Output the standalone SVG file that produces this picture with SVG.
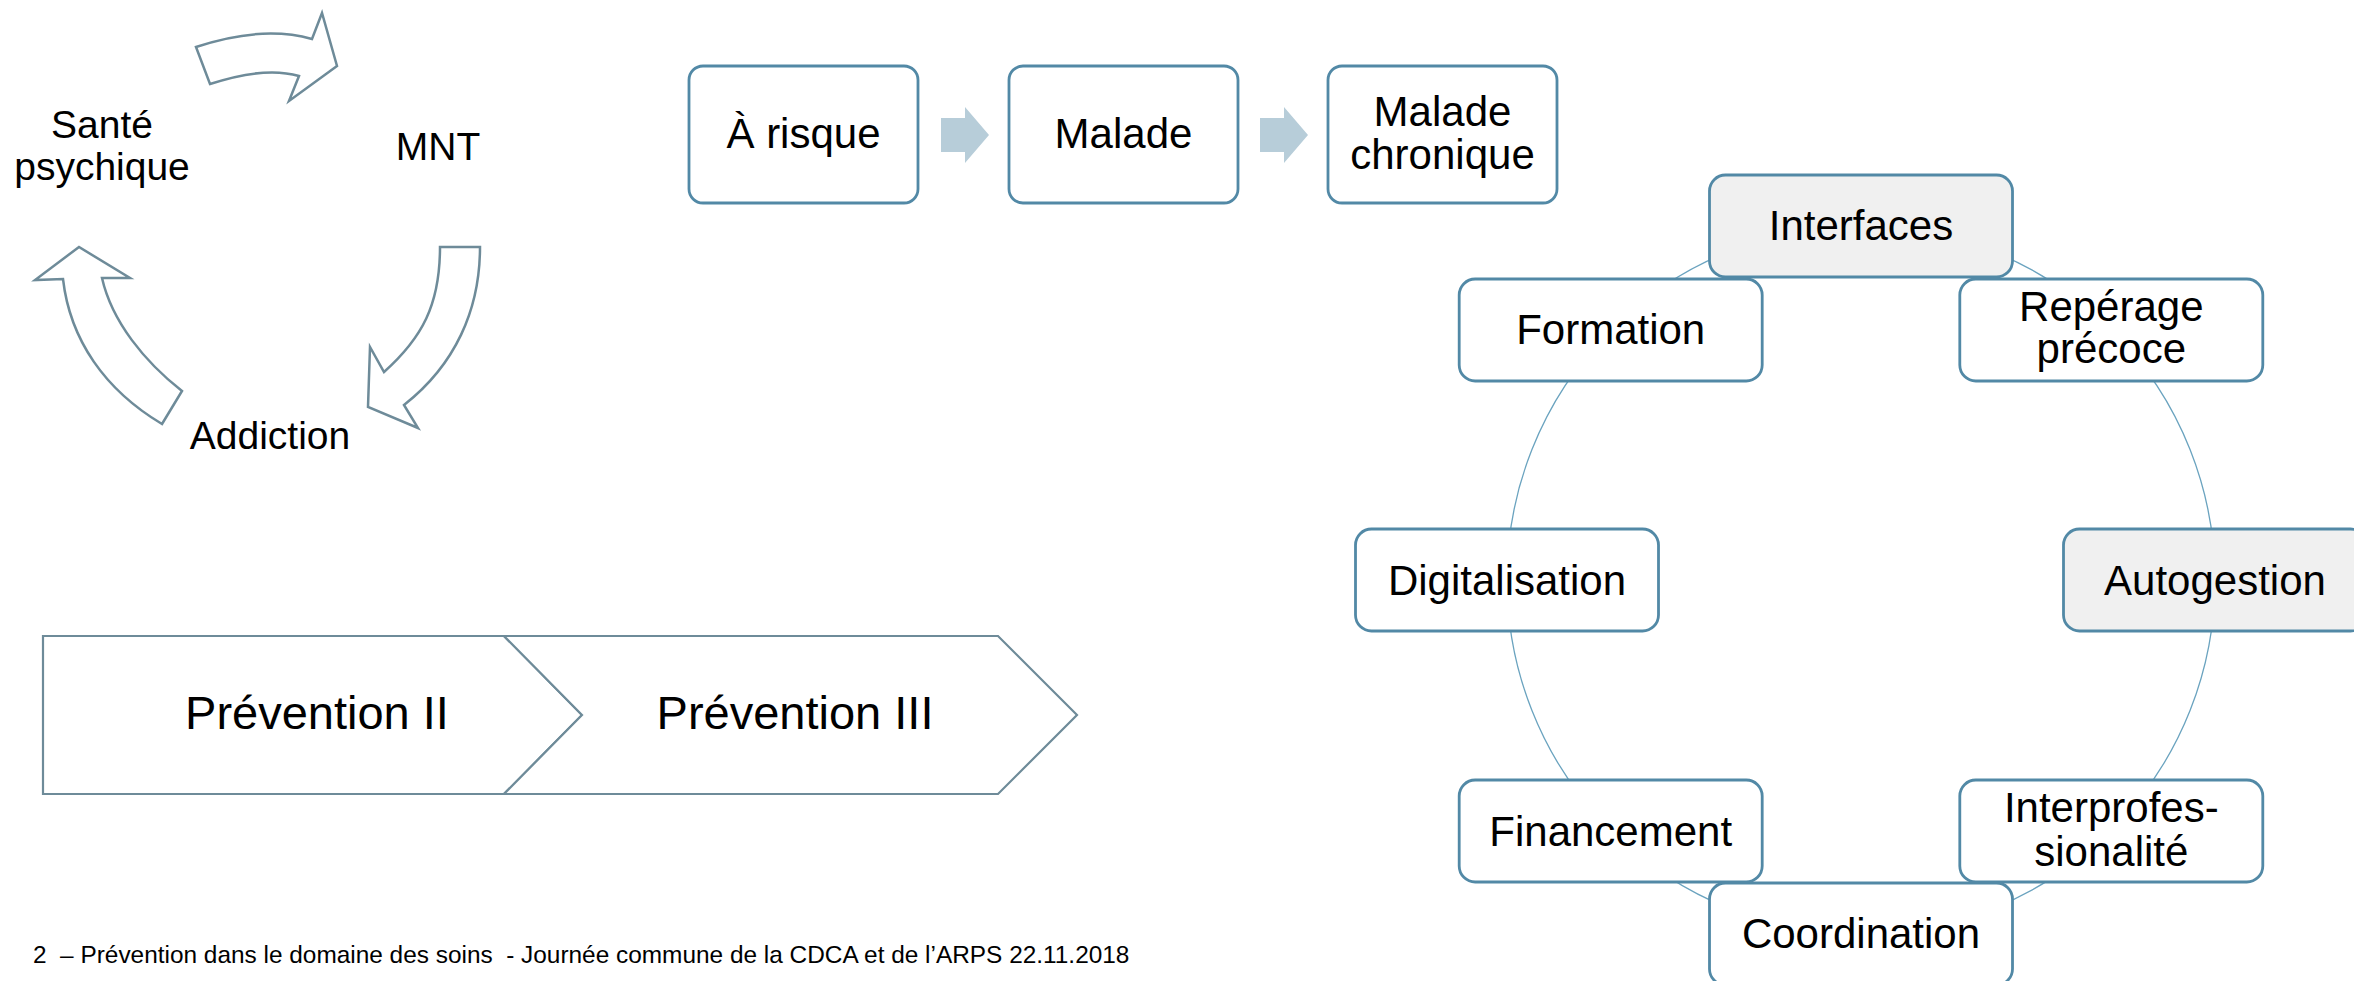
<svg xmlns="http://www.w3.org/2000/svg" width="2354" height="981" viewBox="0 0 2354 981">
<style>
text{font-family:"Liberation Sans",Arial,sans-serif;fill:#000;text-anchor:middle}
.cyc{fill:#fff;stroke:#6e8b99;stroke-width:2.5;stroke-linejoin:miter}
.chev{fill:#fff;stroke:#6e8b99;stroke-width:2.2}
.box{fill:#fff;stroke:#5289a6;stroke-width:2.8}
.hl{fill:#f0f0f0}
.step{fill:#b7cdd9}
.ring{fill:none;stroke:#6aa3bf;stroke-width:1.3}
.t39{font-size:39px}.t42{font-size:42px}.t47{font-size:47px}
</style>
<rect width="2354" height="981" fill="#fff"/>
<g id="cycle">
<path class="cyc" d="M196,47 Q262,25 312,39 L322,13 L337,66 L289,101 L299,76 Q265,66 210,84 Z"/>
<path class="cyc" d="M440,247 L480,247 C480,310 455,365 404,405 L418,428 L368,407 L370,347 L384,372 C422,338 440,305 440,247 Z"/>
<path class="cyc" d="M162,424 L182,391 C145,362 112,322 102,278 L130,278 L79,247 L35,280 L63,279 C70,340 105,390 162,424 Z"/>
<g id="n-sante"><text class="t39" x="102" y="138">Santé</text><text class="t39" x="102" y="180">psychique</text></g>
<g id="n-mnt"><text class="t39" x="438" y="160">MNT</text></g>
<g id="n-addiction"><text class="t39" x="270" y="449">Addiction</text></g>
</g>
<g id="steps">
<polygon class="step" points="941,118 965,118 965,107 989,135 965,163 965,152 941,152"/>
<polygon class="step" points="1260,118 1284,118 1284,107 1308,135 1284,163 1284,152 1260,152"/>
</g>
<g id="n-risque"><rect class="box" x="689" y="66" width="229" height="137" rx="14"/><text class="t42" x="803.5" y="148">À risque</text></g>
<g id="n-malade"><rect class="box" x="1009" y="66" width="229" height="137" rx="14"/><text class="t42" x="1123.5" y="148">Malade</text></g>
<g id="n-chronique"><rect class="box" x="1328" y="66" width="229" height="137" rx="14"/><text class="t42" x="1442.5" y="126">Malade</text><text class="t42" x="1442.5" y="169">chronique</text></g>
<g id="n-prev2"><polygon class="chev" points="43,636 504,636 582,715 504,794 43,794"/><text class="t47" x="317" y="729">Prévention II</text></g>
<g id="n-prev3"><polygon class="chev" points="504,636 998,636 1077,715 998,794 504,794 582,715"/><text class="t47" x="795" y="729">Prévention III</text></g>
<g id="connectors"><circle class="ring" cx="1861" cy="580" r="354"/></g>
<g id="n-interfaces"><rect class="box hl" x="1709.5" y="175" width="303" height="102" rx="16"/><text class="t42" x="1861" y="240">Interfaces</text></g>
<g id="n-reperage"><rect class="box" x="1959.8" y="279" width="303" height="102" rx="16"/><text class="t42" x="2111.3" y="321">Repérage</text><text class="t42" x="2111.3" y="363">précoce</text></g>
<g id="n-autogestion"><rect class="box hl" x="2063.5" y="529" width="303" height="102" rx="16"/><text class="t42" x="2215" y="595">Autogestion</text></g>
<g id="n-interprof"><rect class="box" x="1959.8" y="780" width="303" height="102" rx="16"/><text class="t42" x="2111.3" y="822">Interprofes-</text><text class="t42" x="2111.3" y="866">sionalité</text></g>
<g id="n-financement"><rect class="box" x="1459.2" y="780" width="303" height="102" rx="16"/><text class="t42" x="1610.7" y="846">Financement</text></g>
<g id="n-coordination"><rect class="box" x="1709.5" y="883" width="303" height="102" rx="16"/><text class="t42" x="1861" y="948">Coordination</text></g>
<g id="n-digitalisation"><rect class="box" x="1355.5" y="529" width="303" height="102" rx="16"/><text class="t42" x="1507" y="595">Digitalisation</text></g>
<g id="n-formation"><rect class="box" x="1459.2" y="279" width="303" height="102" rx="16"/><text class="t42" x="1610.7" y="344">Formation</text></g>
<g id="footer"><text x="33" y="963" style="font-size:24.4px;text-anchor:start;white-space:pre">2  – Prévention dans le domaine des soins  - Journée commune de la CDCA et de l’ARPS 22.11.2018</text></g>
</svg>
